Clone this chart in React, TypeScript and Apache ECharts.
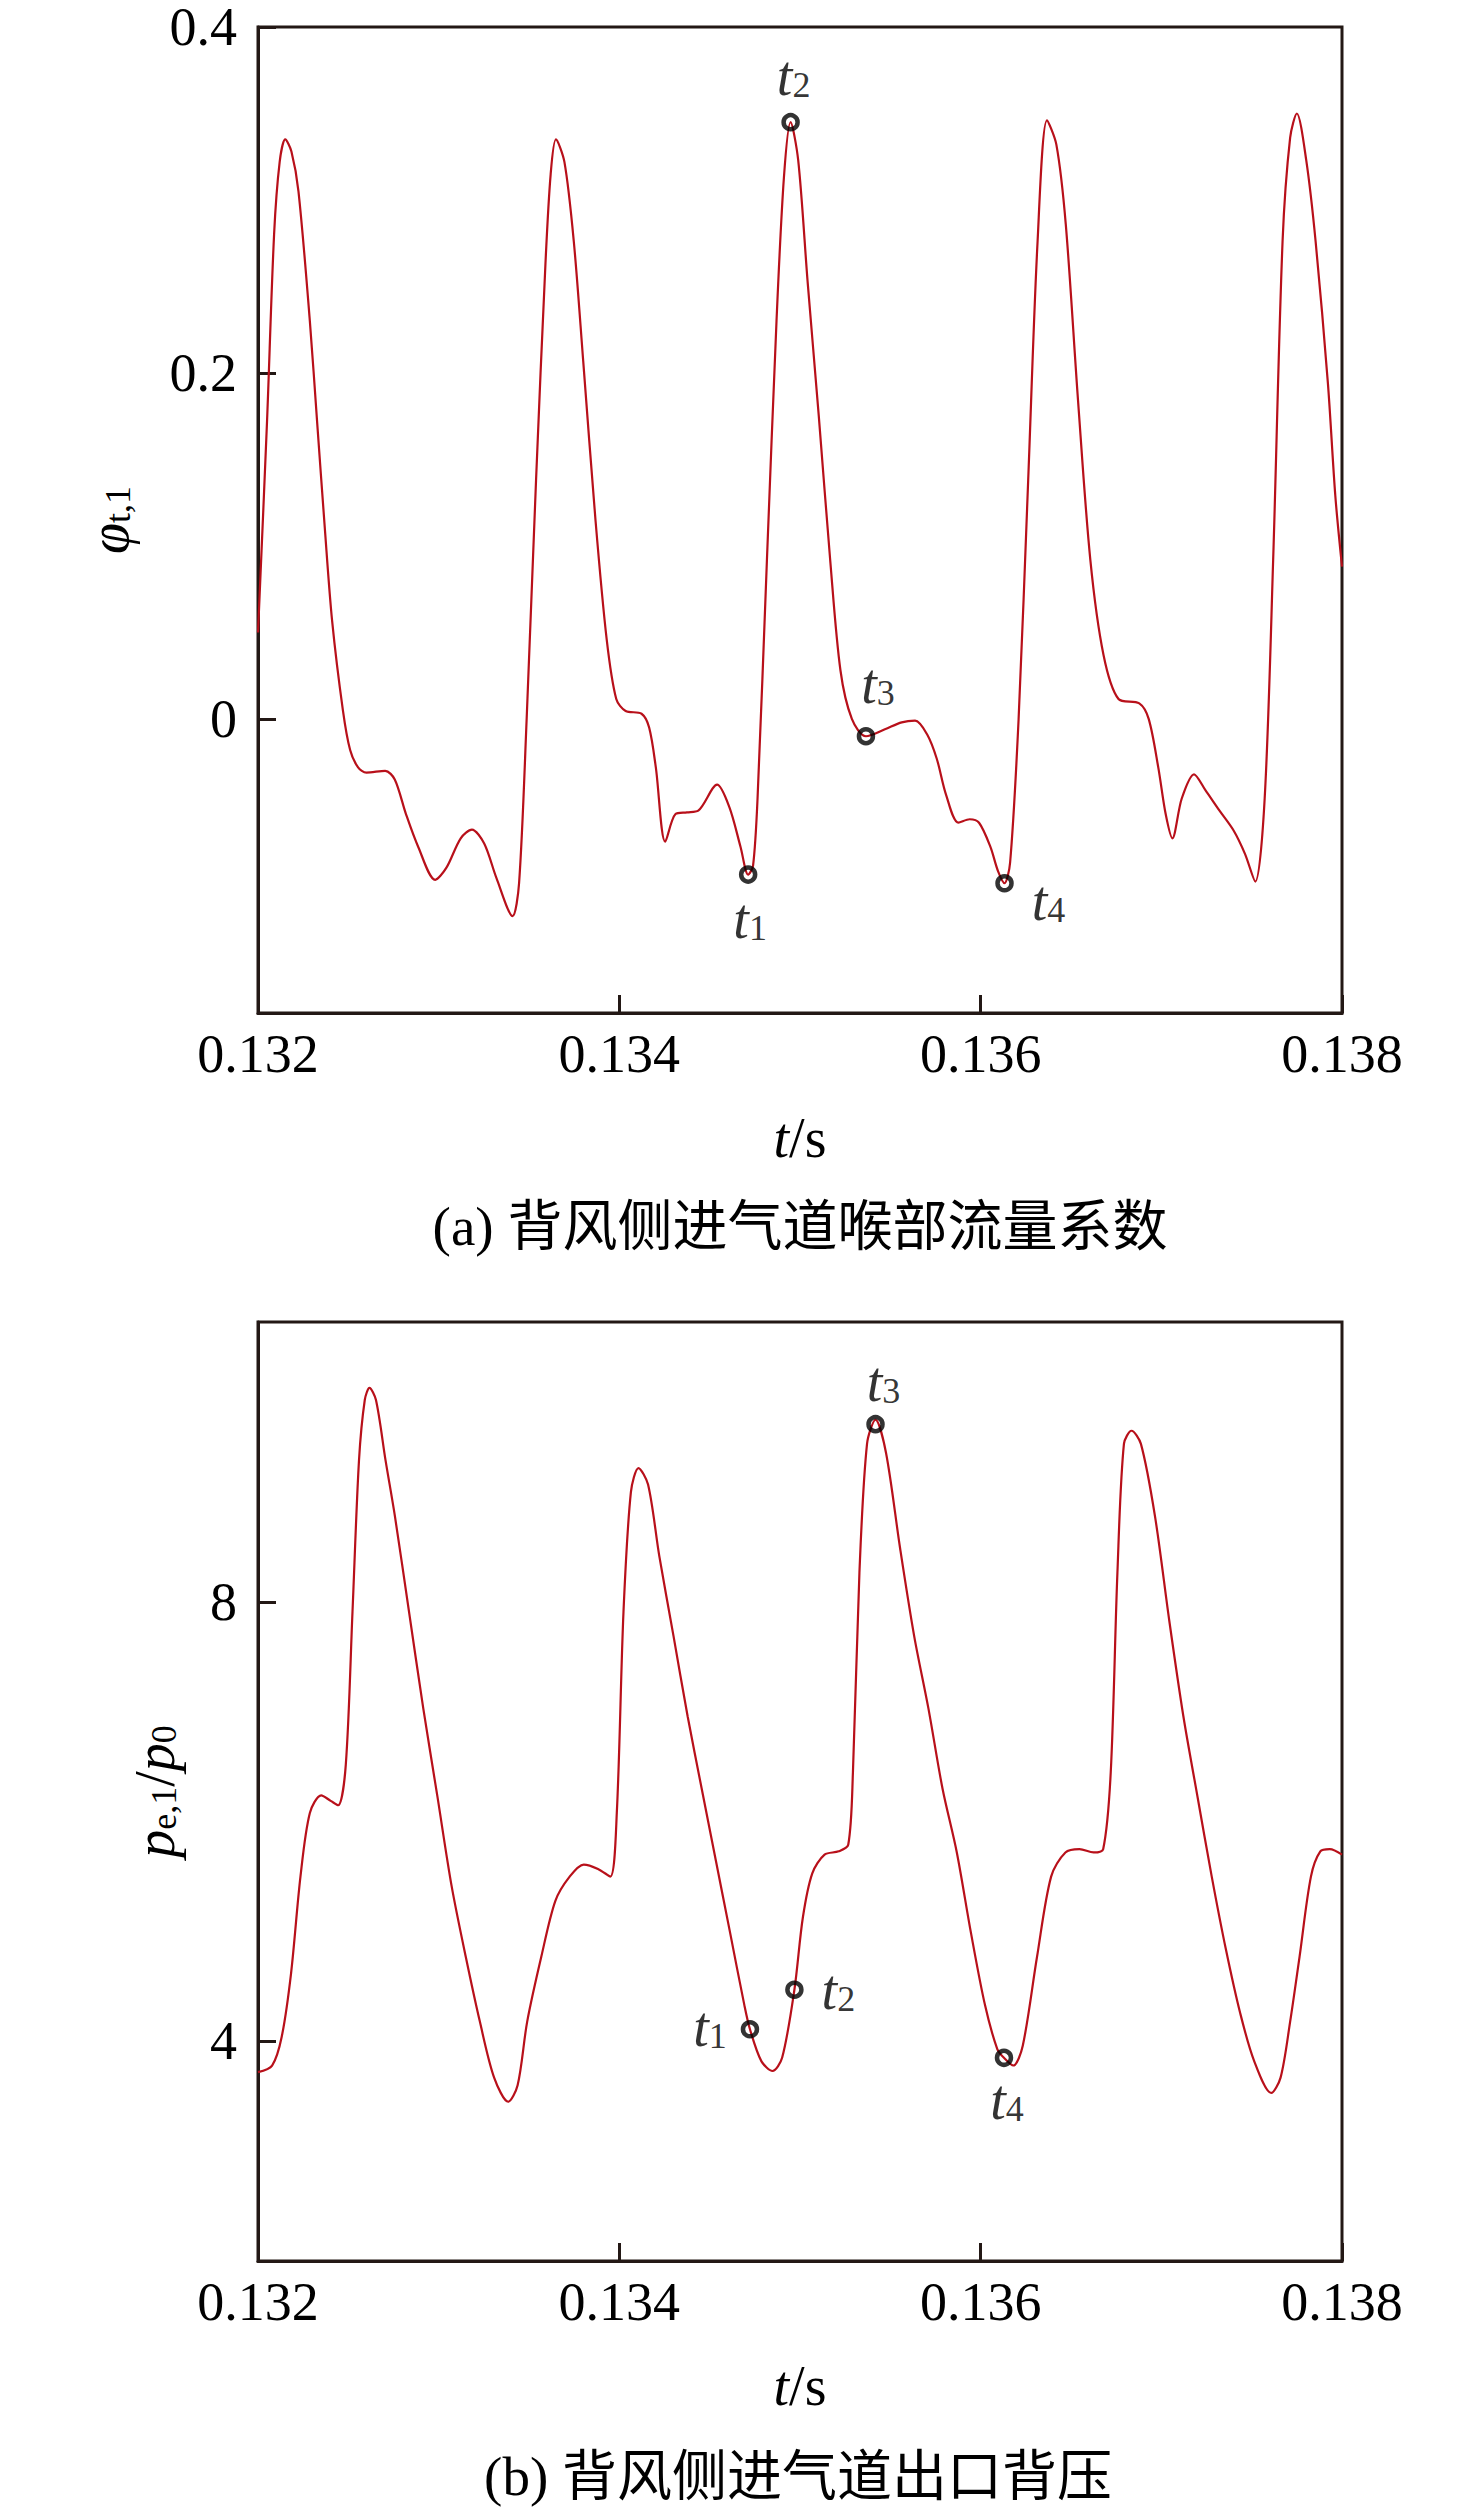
import React, { useEffect, useRef } from "react";
import * as echarts from "echarts";

// ---- data: (a) throat flow coefficient ----
const tA = [
  0.132, 0.13205, 0.132089, 0.13212, 0.132151, 0.132185, 0.132224, 0.132287, 0.132327, 0.13237,
  0.13241, 0.13247, 0.13251, 0.132554, 0.1326, 0.132704, 0.132757, 0.132819, 0.132887, 0.132981,
  0.133043, 0.133122, 0.133184, 0.133252, 0.13332, 0.133409, 0.133445, 0.133487, 0.133539, 0.133591,
  0.13362, 0.133649, 0.133696, 0.133748, 0.1338, 0.133868, 0.13393, 0.133983, 0.134035, 0.134123,
  0.134165, 0.134202, 0.134254, 0.134311, 0.134374, 0.134437, 0.134541, 0.134609, 0.134671, 0.134713,
  0.13474, 0.134765, 0.134817, 0.13487, 0.134911, 0.134948, 0.13499, 0.135042, 0.135104, 0.135167,
  0.135224, 0.135287, 0.135365, 0.13547, 0.135563, 0.135637, 0.135704, 0.135757, 0.135809, 0.135877,
  0.135939, 0.135991, 0.136054, 0.136096, 0.136132, 0.136163, 0.13621, 0.136263, 0.136315, 0.136367,
  0.136419, 0.136471, 0.136539, 0.136607, 0.13668, 0.136763, 0.136878, 0.13693, 0.136983, 0.137024,
  0.137061, 0.137113, 0.137181, 0.137243, 0.137322, 0.1374, 0.137463, 0.13752, 0.137572, 0.137619,
  0.137671, 0.137713, 0.13775, 0.137802, 0.137854, 0.137922, 0.137963, 0.138,
];
const phiA = [
  0.05, 0.172, 0.28, 0.322, 0.335, 0.328, 0.305, 0.23, 0.172, 0.11,
  0.057, 0.005, -0.018, -0.028, -0.031, -0.03, -0.035, -0.055, -0.074, -0.093,
  -0.086, -0.069, -0.064, -0.072, -0.092, -0.114, -0.095, 0.0, 0.138, 0.263,
  0.315, 0.335, 0.322, 0.276, 0.207, 0.115, 0.046, 0.0115, 0.0046, 0.003,
  -0.005, -0.028, -0.071, -0.055, -0.054, -0.053, -0.038, -0.051, -0.074, -0.09,
  -0.085, -0.046, 0.092, 0.23, 0.313, 0.345, 0.323, 0.253, 0.175, 0.092,
  0.028, 0.0, -0.01, -0.006, -0.002, -0.001, -0.009, -0.023, -0.044, -0.06,
  -0.058, -0.06, -0.074, -0.088, -0.095, -0.083, 0.0, 0.138, 0.276, 0.346,
  0.332, 0.286, 0.184, 0.092, 0.037, 0.0115, 0.009, 0.0, -0.028, -0.055,
  -0.069, -0.046, -0.032, -0.041, -0.053, -0.0645, -0.078, -0.094, -0.046, 0.092,
  0.276, 0.336, 0.35, 0.323, 0.276, 0.194, 0.129, 0.088,
];
const markTA = [0.134713, 0.134948, 0.135365, 0.136132];
const markVA = [-0.09, 0.345, -0.01, -0.095];

// ---- data: (b) outlet back pressure ----
const tB = [
  0.132, 0.132078, 0.132131, 0.132183, 0.132235, 0.132287, 0.13235, 0.132402, 0.132444, 0.132486,
  0.132523, 0.132559, 0.132591, 0.132617, 0.132653, 0.132706, 0.132758, 0.132836, 0.132915, 0.132993,
  0.133071, 0.13315, 0.133228, 0.133307, 0.133385, 0.133437, 0.13349, 0.133568, 0.133646, 0.133725,
  0.133803, 0.133882, 0.13395, 0.133986, 0.134023, 0.134064, 0.134106, 0.134159, 0.134221, 0.1343,
  0.134378, 0.134456, 0.134535, 0.134613, 0.134692, 0.134723, 0.134786, 0.134848, 0.134901, 0.134969,
  0.135016, 0.135068, 0.135136, 0.135214, 0.135267, 0.135293, 0.135329, 0.135371, 0.135418, 0.135476,
  0.135554, 0.135632, 0.135711, 0.135789, 0.135868, 0.135946, 0.136024, 0.136092, 0.136129, 0.136181,
  0.136233, 0.136312, 0.13639, 0.136469, 0.136547, 0.136625, 0.136678, 0.13672, 0.136757, 0.136793,
  0.136835, 0.136887, 0.136965, 0.137044, 0.137122, 0.1372, 0.137279, 0.137357, 0.137436, 0.137514,
  0.137608, 0.13766, 0.137713, 0.137765, 0.137828, 0.13788, 0.137932, 0.138,
];
const pB = [
  3.72, 3.78, 4.04, 4.62, 5.5, 6.08, 6.24, 6.19, 6.15, 6.52,
  7.91, 9.29, 9.84, 9.95, 9.84, 9.29, 8.78, 7.91, 7.03, 6.23,
  5.42, 4.77, 4.18, 3.67, 3.45, 3.6, 4.18, 4.77, 5.28, 5.5,
  5.61, 5.57, 5.5, 6.08, 7.91, 9.0, 9.22, 9.07, 8.42, 7.69,
  6.96, 6.3, 5.64, 4.99, 4.33, 4.11, 3.82, 3.73, 3.85, 4.47,
  5.13, 5.53, 5.7, 5.73, 5.79, 6.45, 8.27, 9.44, 9.66, 9.36,
  8.49, 7.69, 7.03, 6.3, 5.72, 4.99, 4.33, 3.93, 3.85, 3.78,
  3.96, 4.77, 5.5, 5.72, 5.75, 5.72, 5.75, 6.45, 8.27, 9.44,
  9.56, 9.44, 8.78, 7.83, 6.96, 6.23, 5.5, 4.84, 4.26, 3.82,
  3.53, 3.67, 4.18, 4.77, 5.5, 5.73, 5.75, 5.7,
];
const markTB = [0.134723, 0.134969, 0.135418, 0.136129];
const markVB = [4.11, 4.47, 9.62, 3.85];

const markNames = ["1", "2", "3", "4"];
const xTicks = [0.132, 0.134, 0.136, 0.138];
const yTicksA = [0, 0.2, 0.4];
const yTicksB = [4, 8];

const SERIF = '"Liberation Serif", "Times New Roman", serif';
const CJK = '"Liberation Serif", "Noto Sans CJK SC", serif';
const FRAME = "#231815";
const LINE = "#b8101a";

const richT = {
  i: { fontFamily: SERIF, fontStyle: "italic", fontSize: 56, lineHeight: 54, color: "#000" },
  s: { fontFamily: SERIF, fontSize: 36, lineHeight: 20, verticalAlign: "bottom", color: "#000" },
  n: { fontFamily: SERIF, fontSize: 56, lineHeight: 54, color: "#000" },
};

export default function App() {
  const ref = useRef<HTMLDivElement>(null);
  useEffect(() => {
    if (!ref.current) return;
    const chart = echarts.init(ref.current, undefined, { renderer: "svg" });

    const offsA = [
      [2, 44],
      [3, -46],
      [12, -52],
      [44, 18],
    ];
    const offsB = [
      [-40, -2],
      [44, 0],
      [8, -42],
      [3, 42],
    ];

    const mkMarks = (ts: number[], vs: number[], offs: number[][]) =>
      ts.map((t, k) => ({
        value: [t, vs[k]],
        label: {
          show: true,
          position: "inside",
          offset: offs[k],
          formatter: "{i|t}{s|" + markNames[k] + "}",
          rich: richT,
        },
      }));

    const xAxisBase = (gi: number) => ({
      type: "value",
      gridIndex: gi,
      min: 0.132,
      max: 0.138,
      interval: 0.002,
      name: "{i|t}{n|/s}",
      nameLocation: "middle",
      nameGap: 98,
      nameTextStyle: { rich: richT },
      axisLine: { show: true, onZero: false, lineStyle: { color: FRAME, width: 3 } },
      axisTick: { show: true, inside: true, length: 18, lineStyle: { color: FRAME, width: 3 }, customValues: xTicks },
      axisLabel: {
        show: true,
        margin: 14,
        fontFamily: SERIF,
        fontSize: 54,
        color: "#000",
        customValues: xTicks,
        formatter: (v: number) => v.toFixed(3),
      },
      splitLine: { show: false },
    });

    const option = {
      animation: false,
      backgroundColor: "#fff",
      grid: [
        { left: 258, top: 25, width: 1084, height: 988, show: true, borderColor: FRAME, borderWidth: 3, backgroundColor: "transparent" },
        { left: 258, top: 1322, width: 1084, height: 939, show: true, borderColor: FRAME, borderWidth: 3, backgroundColor: "transparent" },
      ],
      xAxis: [xAxisBase(0), xAxisBase(1)],
      yAxis: [
        {
          type: "value",
          gridIndex: 0,
          min: -0.17,
          max: 0.4,
          name: "{i|φ}{s|t,1}",
          nameLocation: "middle",
          nameGap: 122,
          nameTextStyle: { rich: richT },
          axisLine: { show: true, onZero: false, lineStyle: { color: FRAME, width: 3 } },
          axisTick: { show: true, inside: true, length: 18, lineStyle: { color: FRAME, width: 3 }, customValues: yTicksA },
          axisLabel: {
            show: true,
            margin: 21,
            fontFamily: SERIF,
            fontSize: 54,
            lineHeight: 40,
            color: "#000",
            customValues: yTicksA,
            formatter: (v: number) => (v === 0 ? "0" : String(Number(v.toFixed(1)))),
          },
          splitLine: { show: false },
        },
        {
          type: "value",
          gridIndex: 1,
          min: 2,
          max: 10.55,
          name: "{i|p}{s|e,1}{n|/}{i|p}{s|0}",
          nameLocation: "middle",
          nameGap: 76,
          nameTextStyle: { rich: richT },
          axisLine: { show: true, onZero: false, lineStyle: { color: FRAME, width: 3 } },
          axisTick: { show: true, inside: true, length: 18, lineStyle: { color: FRAME, width: 3 }, customValues: yTicksB },
          axisLabel: {
            show: true,
            margin: 21,
            fontFamily: SERIF,
            fontSize: 54,
            lineHeight: 40,
            color: "#000",
            customValues: yTicksB,
            formatter: (v: number) => String(v),
          },
          splitLine: { show: false },
        },
      ],
      series: [
        {
          type: "line",
          xAxisIndex: 0,
          yAxisIndex: 0,
          data: tA.map((t, k) => [t, phiA[k]]),
          showSymbol: false,
          smooth: 0.3,
          lineStyle: { color: LINE, width: 2.2 },
          z: 2,
        },
        {
          type: "scatter",
          xAxisIndex: 0,
          yAxisIndex: 0,
          data: mkMarks(markTA, markVA, offsA),
          symbol: "circle",
          symbolSize: 14,
          itemStyle: { color: "rgba(0,0,0,0)", borderColor: "#000", borderWidth: 4.5 },
          z: 5,
        },
        {
          type: "line",
          xAxisIndex: 1,
          yAxisIndex: 1,
          data: tB.map((t, k) => [t, pB[k]]),
          showSymbol: false,
          smooth: 0.3,
          lineStyle: { color: LINE, width: 2.2 },
          z: 2,
        },
        {
          type: "scatter",
          xAxisIndex: 1,
          yAxisIndex: 1,
          data: mkMarks(markTB, markVB, offsB),
          symbol: "circle",
          symbolSize: 14,
          itemStyle: { color: "rgba(0,0,0,0)", borderColor: "#000", borderWidth: 4.5 },
          z: 5,
        },
      ],
      graphic: [
        {
          type: "text",
          x: 800,
          y: 1226,
          style: {
            text: "(a) 背风侧进气道喉部流量系数",
            fontFamily: CJK,
            fontSize: 55,
            fill: "#000",
            align: "center",
            verticalAlign: "middle",
          },
        },
        {
          type: "text",
          x: 798,
          y: 2476,
          style: {
            text: "(b) 背风侧进气道出口背压",
            fontFamily: CJK,
            fontSize: 55,
            fill: "#000",
            align: "center",
            verticalAlign: "middle",
          },
        },
      ],
    };

    chart.setOption(option as any);
    return () => chart.dispose();
  }, []);

  return (
    <div
      ref={ref}
      style={{ position: "absolute", left: 0, top: 0, width: 1476, height: 2507, background: "#fff" }}
    />
  );
}
